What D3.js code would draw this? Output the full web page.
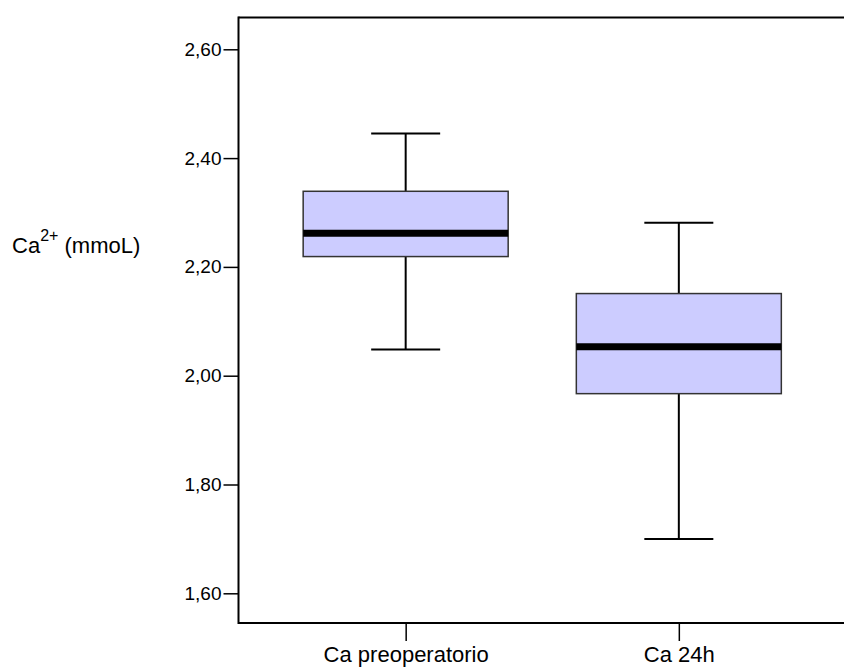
<!DOCTYPE html>
<html>
<head>
<meta charset="utf-8">
<script src="https://cdn.jsdelivr.net/npm/d3@7"></script>
<style>
  html, body { margin: 0; padding: 0; background: #ffffff; }
  svg { display: block; font-family: "Liberation Sans", Arial, sans-serif; }
</style>
</head>
<body>
<svg id="chart" width="844" height="668"></svg>
<script>
// ---- data ----
const categories = ["Ca preoperatorio", "Ca 24h"];
const whiskerLow  = [2.048, 1.700];
const q1          = [2.219, 1.967];
const median      = [2.262, 2.053];
const q3          = [2.339, 2.151];
const whiskerHigh = [2.445, 2.281];
const yTicks = [1.60, 1.80, 2.00, 2.20, 2.40, 2.60];
const yTitleMain = "Ca";
const yTitleSup = "2+";
const yTitleRest = " (mmoL)";

// ---- layout ----
const W = 844, H = 668;
const plotLeft = 238.5, plotTop = 17.5, plotBottom = 623, plotRight = 846;
const svg = d3.select("#chart");

const y = d3.scaleLinear().domain([1.60, 2.60]).range([593.3, 49.3]);
const x = d3.scalePoint().domain(categories).range([plotLeft, plotRight]).padding(0.612);

const boxW = 205, capW = 69;
const fmt = v => d3.format(".2f")(v).replace(".", ",");

// frame (left, top, bottom)
svg.append("line").attr("x1", plotLeft).attr("x2", W + 5).attr("y1", plotTop).attr("y2", plotTop)
  .attr("stroke", "#000").attr("stroke-width", 2);
svg.append("line").attr("x1", plotLeft).attr("x2", W + 5).attr("y1", plotBottom).attr("y2", plotBottom)
  .attr("stroke", "#000").attr("stroke-width", 2);
svg.append("line").attr("x1", plotLeft).attr("x2", plotLeft).attr("y1", plotTop - 1).attr("y2", plotBottom + 1)
  .attr("stroke", "#000").attr("stroke-width", 2);

// y axis
const yAxis = d3.axisLeft(y).tickValues(yTicks).tickFormat(fmt).tickSize(15).tickPadding(2);
const gy = svg.append("g").attr("transform", `translate(${plotLeft},0)`).call(yAxis);
gy.select(".domain").remove();
gy.selectAll(".tick line").attr("stroke", "#000").attr("stroke-width", 1.5);
gy.selectAll(".tick text").attr("font-size", 19).attr("fill", "#000")
  .attr("font-family", "'Liberation Sans', Arial, sans-serif");

// x axis
const xAxis = d3.axisBottom(x).tickSize(18).tickPadding(5);
const gx = svg.append("g").attr("transform", `translate(0,${plotBottom})`).call(xAxis);
gx.select(".domain").remove();
gx.selectAll(".tick line").attr("stroke", "#000").attr("stroke-width", 1.5);
gx.selectAll(".tick text").attr("font-size", 22).attr("fill", "#000")
  .attr("font-family", "'Liberation Sans', Arial, sans-serif");

// boxes
const data = categories.map((c, i) => ({
  c, lo: whiskerLow[i], q1: q1[i], med: median[i], q3: q3[i], hi: whiskerHigh[i]
}));
const g = svg.append("g").selectAll("g").data(data).join("g");

g.append("line").attr("x1", d => x(d.c)).attr("x2", d => x(d.c))
  .attr("y1", d => y(d.hi)).attr("y2", d => y(d.q3)).attr("stroke", "#000").attr("stroke-width", 2);
g.append("line").attr("x1", d => x(d.c)).attr("x2", d => x(d.c))
  .attr("y1", d => y(d.q1)).attr("y2", d => y(d.lo)).attr("stroke", "#000").attr("stroke-width", 2);
g.append("line").attr("x1", d => x(d.c) - capW / 2).attr("x2", d => x(d.c) + capW / 2)
  .attr("y1", d => y(d.hi)).attr("y2", d => y(d.hi)).attr("stroke", "#000").attr("stroke-width", 2);
g.append("line").attr("x1", d => x(d.c) - capW / 2).attr("x2", d => x(d.c) + capW / 2)
  .attr("y1", d => y(d.lo)).attr("y2", d => y(d.lo)).attr("stroke", "#000").attr("stroke-width", 2);
g.append("rect").attr("x", d => x(d.c) - boxW / 2).attr("width", boxW)
  .attr("y", d => y(d.q3)).attr("height", d => y(d.q1) - y(d.q3))
  .attr("fill", "#ccccff").attr("stroke", "#333").attr("stroke-width", 1.5);
g.append("line").attr("x1", d => x(d.c) - boxW / 2).attr("x2", d => x(d.c) + boxW / 2)
  .attr("y1", d => y(d.med)).attr("y2", d => y(d.med)).attr("stroke", "#000").attr("stroke-width", 7);

// y title
const t = svg.append("text").attr("x", 12).attr("y", 253).attr("font-size", 22).attr("fill", "#000");
t.append("tspan").text(yTitleMain);
t.append("tspan").attr("font-size", 16).attr("dy", -12).text(yTitleSup);
t.append("tspan").attr("dy", 12).text(yTitleRest);
</script>
</body>
</html>
